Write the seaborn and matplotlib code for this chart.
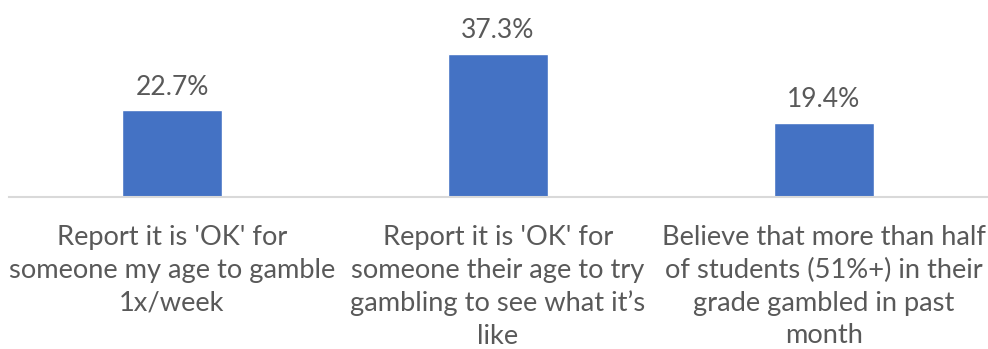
import matplotlib
matplotlib.use("Agg")
import matplotlib.pyplot as plt
import seaborn as sns
import pandas as pd

categories = [
    "Report it is 'OK' for\nsomeone my age to gamble\n1x/week",
    "Report it is 'OK' for\nsomeone their age to try\ngambling to see what it\u2019s\nlike",
    "Believe that more than half\nof students (51%+) in their\ngrade gambled in past\nmonth",
]
values = [22.7, 37.3, 19.4]
value_labels = ["22.7%", "37.3%", "19.4%"]

df = pd.DataFrame({"category": categories, "value": values})

sns.set_theme(style="white")
plt.rcParams["font.family"] = ["Lato", "DejaVu Sans"]

text_color = "#595959"
bar_color = "#4472C4"
fs_cat = 19.6
fs_val = 19

fig = plt.figure(figsize=(9.88, 3.49), dpi=100)
ax = fig.add_axes([9 / 988, 152 / 349, 978 / 988, 197 / 349])

sns.barplot(data=df, x="category", y="value", color=bar_color,
            saturation=1, width=0.307, ax=ax)

ax.set_xlim(-0.5, 2.5)
ax.set_ylim(0, 51.3)
ax.set_xlabel("")
ax.set_ylabel("")
ax.set_yticks([])
for side in ["top", "left", "right"]:
    ax.spines[side].set_visible(False)
ax.spines["bottom"].set_color("#D9D9D9")
ax.spines["bottom"].set_linewidth(1.5)

ax.tick_params(axis="x", length=0, pad=20, labelsize=fs_cat, labelcolor=text_color)
for lbl in ax.get_xticklabels():
    lbl.set_linespacing(1.39)

for patch, txt in zip(ax.patches, value_labels):
    x = patch.get_x() + patch.get_width() / 2
    ax.annotate(txt, (x, patch.get_height()), xytext=(0, 11),
                textcoords="offset points", ha="center", va="baseline",
                fontsize=fs_val, color=text_color)

fig.savefig("out.png", dpi=100)
